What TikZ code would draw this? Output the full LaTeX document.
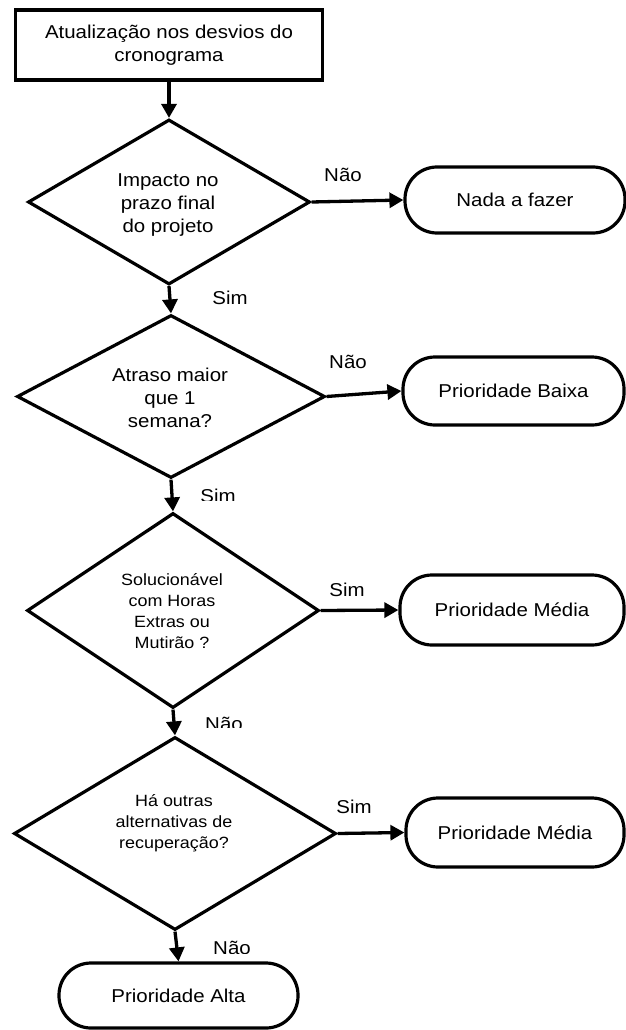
\documentclass[tikz,border=0pt]{standalone}
\usepackage{fontspec}
\setmainfont{Liberation Sans}[FakeStretch=1.1]
\usetikzlibrary{shapes.geometric,arrows.meta}

\begin{document}
\begin{tikzpicture}[x=1pt,y=-1pt,
  every node/.style={font=\fontsize{18.6}{23}\selectfont},
  procbox/.style={draw, line width=3.6pt, minimum width=307pt, minimum height=70pt, inner sep=0pt, align=center},
  term/.style={draw, line width=3.2pt, rounded corners=32pt, inner sep=0pt, align=center},
  decision/.style={draw, diamond, line width=3.2pt, inner sep=0pt},
  dtext/.style={align=center, inner sep=0pt},
  smalltext/.style={font=\fontsize{16.3}{21}\selectfont},
  flow/.style={line width=3.3pt, -{Triangle[length=14pt,width=15pt]}},
  lbl/.style={inner sep=0pt, anchor=base}]

\useasboundingbox (0,0) rectangle (626,1030);
\fill[white] (0,0) rectangle (626,1030);

% start box
\node[procbox] (start) at (169,45) {Atualização nos desvios do\\cronograma};

% decisions (shape + text)
\node[decision, minimum width=282pt, minimum height=165pt] (d1) at (169,202) {};
\node[dtext] (t1) at (168,205) {Impacto no\\prazo final\\do projeto};

\node[decision, minimum width=308pt, minimum height=163pt] (d2) at (171,396.5) {};
\node[dtext] (t2) at (170,398) {Atraso maior\\que 1\\semana?};

\node[decision, minimum width=292pt, minimum height=195pt] (d3) at (173,610.5) {};
\node[dtext, smalltext] (t3) at (172,611.5) {Solucionável\\com Horas\\Extras ou\\Mutirão ?};

\node[decision, minimum width=322pt, minimum height=193pt] (d4) at (175,833.5) {};
\node[dtext, smalltext] (t4) at (174,823) {Há outras\\alternativas de\\recuperação?};

% terminals
\node[term, minimum width=220pt, minimum height=66pt] (nada) at (515,200) {Nada a fazer};
\node[term, minimum width=221pt, minimum height=68pt] (baixa) at (513.5,391) {Prioridade Baixa};
\node[term, minimum width=224pt, minimum height=70pt] (media1) at (512,610) {Prioridade Média};
\node[term, minimum width=218pt, minimum height=69pt] (media2) at (515,832.5) {Prioridade Média};
\node[term, minimum width=239pt, minimum height=65pt] (alta) at (178.5,995.5) {Prioridade Alta};

% connectors
\draw[flow] (start.south) -- (d1.north);
\draw[flow] (d1.east) -- (nada.west);
\draw[flow] (d1.south) -- (d2.north);
\draw[flow] (d2.east) -- (baixa.west);
\draw[flow] (d2.south) -- (d3.north);
\draw[flow] (d3.east) -- (media1.west);
\draw[flow] (d3.south) -- (d4.north);
\draw[flow] (d4.east) -- (media2.west);
\draw[flow] (d4.south) -- (alta.north);

% branch labels
\node[lbl] (l1) at (343,181.5) {Não};
\node[lbl] (l2) at (230,304.5) {Sim};
\node[lbl] (l3) at (348,368.5) {Não};
\begin{scope}
  \clip (190,470) rectangle (260,500);
  \node[lbl] (l4) at (218,502) {Sim};
\end{scope}
\node[lbl] (l5) at (347,596.5) {Sim};
\begin{scope}
  \clip (190,700) rectangle (260,727);
  \node[lbl] (l6) at (224,730) {Não};
\end{scope}
\node[lbl] (l7) at (354,813.5) {Sim};
\begin{scope}
  \clip (200,920) rectangle (270,953);
  \node[lbl] (l8) at (232,954) {Não};
\end{scope}
\end{tikzpicture}
\end{document}
